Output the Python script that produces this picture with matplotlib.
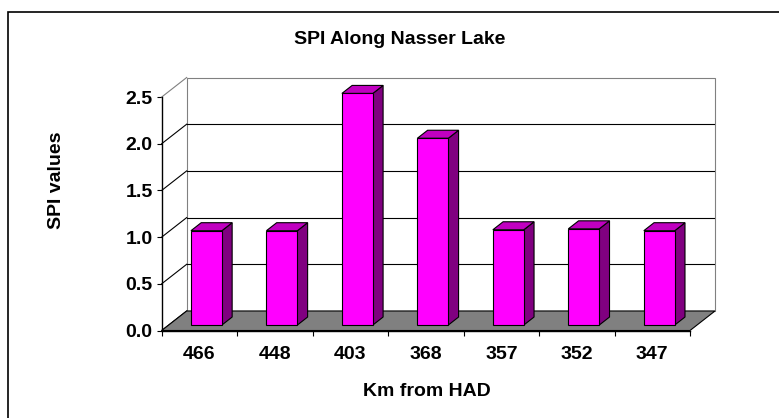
import numpy as np
import matplotlib.pyplot as plt
from matplotlib.patches import Polygon, Rectangle

plt.rcParams['font.family'] = ['Liberation Sans', 'DejaVu Sans']
plt.rcParams['font.weight'] = 'bold'

# Данные
km_labels = ['466', '448', '403', '368', '357', '352', '347']
spi = [1.01, 1.01, 2.48, 2.0, 1.02, 1.03, 1.01]
y_ticks = [0.0, 0.5, 1.0, 1.5, 2.0, 2.5]

# Псевдо-3D: сдвиг задней стенки в единицах данных
ddx = 0.331   # по x (доля категории)
ddy = 0.209   # по y (в единицах SPI)
y_top = 2.5
n = len(km_labels)
bar_w = 0.41
f0, f1 = 0.28, 0.69   # глубина передней и задней граней столбика

fig = plt.figure(figsize=(7.79, 4.18), dpi=100)
ax = fig.add_axes([161.7 / 779, 1 - 330.5 / 418, (715 - 161.7) / 779, (330.5 - 77.5) / 418])
ax.set_xlim(0, n + ddx)
ax.set_ylim(0, y_top + ddy)
ax.patch.set_visible(False)

# Задняя стенка
ax.add_patch(Rectangle((ddx, ddy), n, y_top, facecolor='white', edgecolor='#808080',
                       lw=0.8, zorder=1, clip_on=False))
for v in y_ticks[1:-1]:
    ax.plot([ddx, n + ddx], [v + ddy, v + ddy], color='black', lw=0.8, zorder=2)
# наклонные линии от оси к стенке
for v in y_ticks:
    c = '#808080' if v == y_top else 'black'
    ax.plot([0, ddx], [v, v + ddy], color=c, lw=0.8, zorder=2, clip_on=False)

# Пол
ax.add_patch(Polygon([(0, 0), (n, 0), (n + ddx, ddy), (ddx, ddy)], closed=True,
                     facecolor='#808080', edgecolor='black', lw=0.8, zorder=3, clip_on=False))

# Столбики
x = np.arange(n) + 0.5 + f0 * ddx
base = f0 * ddy
sx = (f1 - f0) * ddx
sy = (f1 - f0) * ddy
ax.bar(x, spi, width=bar_w, bottom=base, color='#FF00FF', edgecolor='black', lw=0.8, zorder=5)
for xi, v in zip(x, spi):
    xl, xr = xi - bar_w / 2, xi + bar_w / 2
    yt = base + v
    ax.add_patch(Polygon([(xr, base), (xr + sx, base + sy), (xr + sx, yt + sy), (xr, yt)],
                         closed=True, facecolor='#800080', edgecolor='black', lw=0.8, zorder=4))
    ax.add_patch(Polygon([(xl, yt), (xr, yt), (xr + sx, yt + sy), (xl + sx, yt + sy)],
                         closed=True, facecolor='#C000C0', edgecolor='black', lw=0.8, zorder=4))

# Оси
for s in ['top', 'right']:
    ax.spines[s].set_visible(False)
ax.spines['left'].set_bounds(0, y_top)
ax.spines['bottom'].set_bounds(0, n)
ax.spines['left'].set_linewidth(1.0)
ax.spines['bottom'].set_linewidth(1.0)
ax.spines['left'].set_zorder(6)
ax.spines['bottom'].set_zorder(6)

ax.set_yticks(y_ticks)
ax.set_yticklabels([f'{v:.1f}' for v in y_ticks])
ax.set_xticks(np.arange(n + 1))
ax.set_xticklabels([])
ax.set_xticks(np.arange(n) + 0.5, minor=True)
ax.set_xticklabels(km_labels, minor=True)
ax.tick_params(axis='y', direction='out', length=3.5, width=0.8, pad=3, labelsize=14)
ax.tick_params(axis='x', which='major', direction='out', length=3.5, width=0.8)
ax.tick_params(axis='x', which='minor', length=0, pad=11, labelsize=14)

fig.text(400 / 779, 1 - 39.5 / 418, 'SPI Along Nasser Lake', ha='center', va='center',
         fontsize=14, fontweight='bold')
fig.text(427 / 779, 1 - 391 / 418, 'Km from HAD', ha='center', va='center',
         fontsize=14, fontweight='bold')
fig.text(56.5 / 779, 1 - 180 / 418, 'SPI values', ha='center', va='center', rotation=90,
         fontsize=14, fontweight='bold')

# Рамка графика
fig.patches.append(Rectangle((7.5 / 779, -0.1), 1.1, 1.1 - 12.3 / 418, transform=fig.transFigure,
                             facecolor='none', edgecolor='black', lw=1.2))

fig.savefig('out.png', dpi=100)
